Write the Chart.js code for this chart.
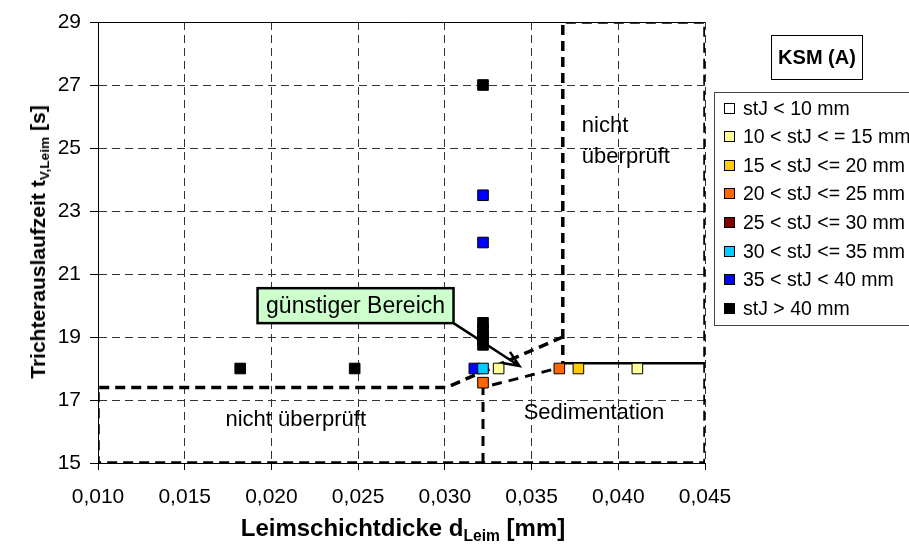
<!DOCTYPE html>
<html lang="de">
<head>
<meta charset="UTF-8">
<title>KSM (A) - Trichterauslaufzeit</title>
<script src="https://cdn.jsdelivr.net/npm/chart.js@4"></script>
<style>
  body { margin: 0; background: #fff; font-family: 'Liberation Sans', Arial, sans-serif; color: #000; }
  #wrap { position: relative; width: 909px; height: 554px; overflow: hidden; }
  canvas { position: absolute; left: 0; top: 0; }
  .ytitle {
    position: absolute; left: 38px; top: 242px;
    transform: translate(-50%, -50%) rotate(-90deg);
    font-weight: bold; font-size: 21px; white-space: nowrap;
  }
  .xtitle {
    position: absolute; left: 403px; top: 528px;
    transform: translate(-50%, -50%);
    font-weight: bold; font-size: 24px; white-space: nowrap;
  }
  sub { font-size: 65%; vertical-align: -0.3em; line-height: 0; }
  .ksm {
    position: absolute; left: 771px; top: 35px; width: 90px; height: 43px;
    border: 1px solid #000; font-weight: bold; font-size: 20px;
    display: flex; align-items: center; justify-content: center;
  }
  .legend {
    position: absolute; left: 714px; top: 92px; width: 230px; height: 234px;
    border: 1px solid #444; box-sizing: border-box;
  }
  .legend div {
    position: absolute; left: 9px; height: 20px; display: flex; align-items: center;
    font-size: 19.5px; white-space: nowrap;
  }
  .legend span { display: inline-block; width: 9px; height: 9px; border: 1px solid #000; margin-right: 8px; }
</style>
</head>
<body>
<div id="wrap">
  <canvas id="chart" width="909" height="554"></canvas>
  <div class="ytitle">Trichterauslaufzeit t<sub>V,Leim</sub> [s]</div>
  <div class="xtitle">Leimschichtdicke d<sub>Leim</sub> [mm]</div>
  <div class="ksm">KSM (A)</div>
  <div class="legend" id="legend"></div>
</div>

<script>
  // Klassen der Stahlfaserlaenge stJ
  const seriesNames = ['stJ < 10 mm', '10 < stJ < = 15 mm', '15 < stJ <= 20 mm', '20 < stJ <= 25 mm',
                       '25 < stJ <= 30 mm', '30 < stJ <= 35 mm', '35 < stJ < 40 mm', 'stJ > 40 mm'];
  const seriesColors = ['#FFFFFF', '#FFFF99', '#FFCC00', '#FF6600', '#800000', '#00CCFF', '#0000FF', '#000000'];

  // Leimschichtdicke d [mm] / Trichterauslaufzeit t [s]
  const dLt10 = [],               tLt10 = [];
  const d10_15 = [0.0331, 0.0411], t10_15 = [18.0, 18.0];
  const d15_20 = [0.0377],         t15_20 = [18.0];
  const d20_25 = [0.0322, 0.0366], t20_25 = [17.55, 18.0];
  const d25_30 = [],               t25_30 = [];
  const d30_35 = [0.0322],         t30_35 = [18.0];
  const d35_40 = [0.0317, 0.0322, 0.0322], t35_40 = [18.0, 23.5, 22.0];
  const dGt40 = [0.0182, 0.0248, 0.0322, 0.0322, 0.0322, 0.0322, 0.0322, 0.0322];
  const tGt40 = [18.0, 18.0, 27.0, 19.45, 19.25, 19.05, 18.9, 18.75];

  const seriesD = [dLt10, d10_15, d15_20, d20_25, d25_30, d30_35, d35_40, dGt40];
  const seriesT = [tLt10, t10_15, t15_20, t20_25, t25_30, t30_35, t35_40, tGt40];

  // Achsen
  const xTicks = [0.010, 0.015, 0.020, 0.025, 0.030, 0.035, 0.040, 0.045];
  const yTicks = [15, 17, 19, 21, 23, 25, 27, 29];

  // Bereichsgrenzen (gestrichelt) und Grenzlinie (durchgezogen)
  const grenzeD = [0.0368, 0.0301, 0.010, 0.010, 0.045, 0.045, 0.0368, 0.0368];
  const grenzeT = [19.0, 17.4, 17.4, 15, 15, 29, 29, 18.17];
  const sedD = [0.0322, 0.0322, 0.0368];
  const sedT = [15, 17.4, 18.05];
  const linieD = [0.0368, 0.045];
  const linieT = [18.17, 18.17];

  const toXY = (ds, ts) => ds.map((d, i) => ({ x: d, y: ts[i] }));

  const datasets = seriesNames.map((name, i) => ({
    label: name,
    data: toXY(seriesD[i], seriesT[i]),
    pointStyle: 'rect',
    pointRadius: 7.5,
    pointHoverRadius: 7.5,
    backgroundColor: seriesColors[i],
    borderColor: '#000',
    borderWidth: 1,
    order: 0
  }));
  datasets.push(
    { label: 'Grenze', data: toXY(grenzeD, grenzeT), showLine: true, pointRadius: 0,
      borderColor: '#000', borderWidth: 3.5, borderDash: [10, 6], order: 1 },
    { label: 'Sedimentation', data: toXY(sedD, sedT), showLine: true, pointRadius: 0,
      borderColor: '#000', borderWidth: 3, borderDash: [10, 7], order: 1 },
    { label: 'Linie', data: toXY(linieD, linieT), showLine: true, pointRadius: 0,
      borderColor: '#000', borderWidth: 2.5, order: 1 }
  );

  // Legende
  const legend = document.getElementById('legend');
  seriesNames.forEach((name, i) => {
    const row = document.createElement('div');
    row.style.top = (15 + i * 28.6 - 10) + 'px';
    row.innerHTML = '<span style="background:' + seriesColors[i] + '"></span>' + name;
    legend.appendChild(row);
  });

  // Rahmen oben, Texte, Kasten und Pfeil
  const annot = {
    id: 'annot',
    beforeDatasetsDraw(chart) {
      const { ctx, chartArea: a } = chart;
      ctx.save();
      ctx.strokeStyle = '#000';
      ctx.lineWidth = 1;
      ctx.beginPath();
      ctx.moveTo(a.left, a.top + 0.5);
      ctx.lineTo(a.right, a.top + 0.5);
      ctx.stroke();
      ctx.restore();
    },
    afterDatasetsDraw(chart) {
      const { ctx, scales: { x, y } } = chart;
      ctx.save();
      ctx.fillStyle = '#000';
      ctx.font = "22px 'Liberation Sans', Arial, sans-serif";
      ctx.textBaseline = 'middle';
      ctx.textAlign = 'center';
      ctx.fillText('nicht überprüft', x.getPixelForValue(0.0214), y.getPixelForValue(16.38));
      ctx.fillText('Sedimentation', x.getPixelForValue(0.0386), y.getPixelForValue(16.6));
      ctx.textAlign = 'left';
      ctx.fillText('nicht', x.getPixelForValue(0.0379), y.getPixelForValue(25.7));
      ctx.fillText('überprüft', x.getPixelForValue(0.0379), y.getPixelForValue(24.72));

      // Kasten "günstiger Bereich"
      const bx1 = x.getPixelForValue(0.0192), bx2 = x.getPixelForValue(0.0305);
      const by1 = y.getPixelForValue(20.55), by2 = y.getPixelForValue(19.44);
      ctx.fillStyle = '#CCFFCC';
      ctx.fillRect(bx1, by1, bx2 - bx1, by2 - by1);
      ctx.strokeStyle = '#000';
      ctx.lineWidth = 2.5;
      ctx.strokeRect(bx1, by1, bx2 - bx1, by2 - by1);
      ctx.fillStyle = '#000';
      ctx.textAlign = 'center';
      ctx.font = "23px 'Liberation Sans', Arial, sans-serif";
      ctx.fillText('günstiger Bereich', (bx1 + bx2) / 2, (by1 + by2) / 2 + 1);

      // Pfeil
      const ax = x.getPixelForValue(0.0343), ay = y.getPixelForValue(18.08);
      const ang = Math.atan2(ay - by2, ax - bx2);
      ctx.lineWidth = 2.5;
      ctx.beginPath();
      ctx.moveTo(bx2, by2);
      ctx.lineTo(ax, ay);
      ctx.moveTo(ax - 17 * Math.cos(ang - 0.4), ay - 17 * Math.sin(ang - 0.4));
      ctx.lineTo(ax, ay);
      ctx.lineTo(ax - 17 * Math.cos(ang + 0.4), ay - 17 * Math.sin(ang + 0.4));
      ctx.stroke();
      ctx.restore();
    }
  };

  Chart.defaults.font.family = "'Liberation Sans', Arial, sans-serif";
  Chart.defaults.color = '#000';

  new Chart(document.getElementById('chart'), {
    type: 'scatter',
    data: { datasets: datasets },
    options: {
      responsive: false,
      animation: false,
      devicePixelRatio: 1,
      layout: { padding: { top: 22, right: 204, left: 0, bottom: 0 } },
      plugins: { legend: { display: false }, tooltip: { enabled: false } },
      scales: {
        x: {
          type: 'linear',
          min: xTicks[0],
          max: xTicks[xTicks.length - 1],
          afterFit: s => { s.height = 91; },
          afterBuildTicks: s => { s.ticks = xTicks.map(v => ({ value: v })); },
          ticks: { font: { size: 21 }, padding: 15, maxRotation: 0,
                   callback: v => v.toFixed(3).replace('.', ',') },
          grid: { color: '#333', lineWidth: 1, tickLength: 7, tickColor: '#000' },
          border: { display: true, color: '#000', width: 1, dash: [8, 5] }
        },
        y: {
          min: yTicks[0],
          max: yTicks[yTicks.length - 1],
          afterFit: s => { s.width = 98; },
          afterBuildTicks: s => { s.ticks = yTicks.map(v => ({ value: v })); },
          ticks: { font: { size: 21 }, padding: 9 },
          grid: { color: '#333', lineWidth: 1, tickLength: 8, tickColor: '#000' },
          border: { display: true, color: '#000', width: 1, dash: [8, 5] }
        }
      }
    },
    plugins: [annot]
  });
</script>
</body>
</html>
